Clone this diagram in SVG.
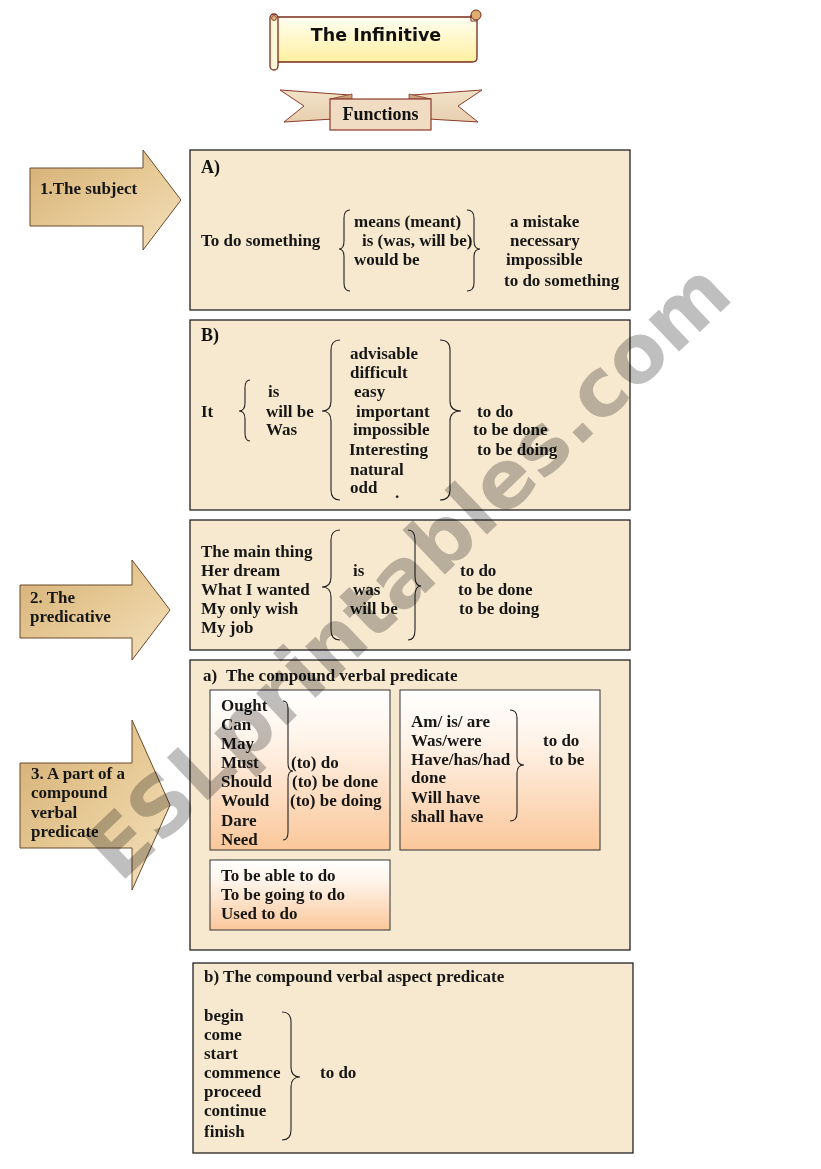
<svg xmlns="http://www.w3.org/2000/svg" width="821" height="1169" viewBox="0 0 821 1169">
<style>
.t{font-family:"Liberation Serif","Times New Roman",serif;font-size:17px;font-weight:bold;fill:#161616}
.hd{font-family:"Liberation Serif","Times New Roman",serif;font-size:18px;font-weight:bold;fill:#111}
.box{fill:#f7e9cf;stroke:#111;stroke-width:1.2}
.inner{fill:url(#peach);stroke:#333;stroke-width:1}
.arrow{fill:url(#tan);stroke:#6b4a2a;stroke-width:1}
.brace{fill:none;stroke:#222;stroke-width:1.1}
.wm{font-family:"DejaVu Sans",Verdana,sans-serif;font-weight:bold;font-size:81px;fill:#bfbfbf;mix-blend-mode:multiply}
</style>
<defs>
<linearGradient id="tan" x1="0" y1="0" x2="1" y2="1">
<stop offset="0" stop-color="#d4ae74"/><stop offset="0.5" stop-color="#e6c995"/><stop offset="1" stop-color="#f4e0bd"/>
</linearGradient>
<linearGradient id="peach" x1="0" y1="0" x2="0" y2="1">
<stop offset="0" stop-color="#ffffff"/><stop offset="0.3" stop-color="#fff4ea"/><stop offset="1" stop-color="#fac79a"/>
</linearGradient>
<linearGradient id="scroll" x1="0" y1="0" x2="0" y2="1">
<stop offset="0" stop-color="#fffef2"/><stop offset="1" stop-color="#fff0a0"/>
</linearGradient>
<linearGradient id="ribbon" x1="0" y1="0" x2="0" y2="1">
<stop offset="0" stop-color="#f3e2c8"/><stop offset="1" stop-color="#e6cfae"/>
</linearGradient>
</defs>
<rect width="821" height="1169" fill="#ffffff"/>

<g id="title">
<path d="M277 17 H477 V58 Q477 62 472 62 H277 Z" fill="url(#scroll)" stroke="#7a2a1a" stroke-width="1.3"/>
<rect x="270" y="14" width="8" height="56" rx="4" fill="#fff8d8" stroke="#7a2a1a" stroke-width="1.3"/>
<circle cx="274" cy="18" r="2.5" fill="#d8b07a" stroke="#7a2a1a" stroke-width="0.8"/>
<circle cx="476" cy="15" r="5" fill="#dcae72" stroke="#7a2a1a" stroke-width="1"/>
<path d="M471 15 V21 H477" fill="none" stroke="#7a2a1a" stroke-width="1"/>
<text x="376" y="41" text-anchor="middle" style="font-family:'DejaVu Sans',Verdana,sans-serif;font-weight:bold;font-size:17.5px;fill:#111">The Infinitive</text>
</g>

<g id="functions">
<polygon points="280,90 350,95 350,118 284,122 304,106" fill="url(#ribbon)" stroke="#8c3a2a" stroke-width="1"/>
<polygon points="482,90 412,95 412,118 478,122 458,106" fill="url(#ribbon)" stroke="#8c3a2a" stroke-width="1"/>
<polygon points="330,99 352,94 352,99" fill="#c9a27c" stroke="#8c3a2a" stroke-width="0.8"/>
<polygon points="431,99 409,94 409,99" fill="#c9a27c" stroke="#8c3a2a" stroke-width="0.8"/>
<rect x="330" y="99" width="101" height="31" fill="#efdcc2" stroke="#8c3a2a" stroke-width="1.2"/>
<text x="380.5" y="120" text-anchor="middle" class="hd">Functions</text>
</g>

<g id="arrow-subject">
<path class="arrow" d="M30 168 H143 V150 L181 200 L143 250 V226 H30 Z"/>
<text class="t" x="40" y="194">1.The subject</text>
</g>
<g id="arrow-predicative">
<path class="arrow" d="M20 585 H132 V560 L170 610 L132 660 V638 H20 Z"/>
<text class="t" x="30" y="603">2. The</text>
<text class="t" x="30" y="622">predicative</text>
</g>
<g id="arrow-compound">
<path class="arrow" d="M20 763 H132 V720 L170 805 L132 890 V848 H20 Z"/>
<text class="t" x="31" y="779">3. A part of a</text>
<text class="t" x="31" y="798">compound</text>
<text class="t" x="31" y="818">verbal</text>
<text class="t" x="31" y="837">predicate</text>
</g>

<g id="boxA">
<rect class="box" x="190" y="150" width="440" height="160"/>
<text class="hd" x="201" y="173">A)</text>
<text class="t" x="201" y="246">To do something</text>
<text class="t" x="354" y="227">means (meant)</text>
<text class="t" x="362" y="246">is (was, will be)</text>
<text class="t" x="354" y="265">would be</text>
<text class="t" x="510" y="227">a mistake</text>
<text class="t" x="510" y="246">necessary</text>
<text class="t" x="506" y="265">impossible</text>
<text class="t" x="504" y="286">to do something</text>
</g>

<g id="boxB">
<rect class="box" x="190" y="320" width="440" height="190"/>
<text class="hd" x="201" y="341">B)</text>
<text class="t" x="201" y="417">It</text>
<text class="t" x="268" y="397">is</text>
<text class="t" x="266" y="417">will be</text>
<text class="t" x="266" y="435">Was</text>
<text class="t" x="350" y="359">advisable</text>
<text class="t" x="350" y="378">difficult</text>
<text class="t" x="354" y="397">easy</text>
<text class="t" x="356" y="417">important</text>
<text class="t" x="353" y="435">impossible</text>
<text class="t" x="349" y="455">Interesting</text>
<text class="t" x="350" y="475">natural</text>
<text class="t" x="350" y="493">odd</text>
<text class="t" x="395" y="498">.</text>
<text class="t" x="477" y="417">to do</text>
<text class="t" x="473" y="435">to be done</text>
<text class="t" x="477" y="455">to be doing</text>
</g>

<g id="boxC">
<rect class="box" x="190" y="520" width="440" height="130"/>
<text class="t" x="201" y="557">The main thing</text>
<text class="t" x="201" y="576">Her dream</text>
<text class="t" x="201" y="595">What I wanted</text>
<text class="t" x="201" y="614">My only wish</text>
<text class="t" x="201" y="633">My job</text>
<text class="t" x="353" y="576">is</text>
<text class="t" x="353" y="595">was</text>
<text class="t" x="350" y="614">will be</text>
<text class="t" x="460" y="576">to do</text>
<text class="t" x="458" y="595">to be done</text>
<text class="t" x="459" y="614">to be doing</text>
</g>

<g id="boxD">
<rect class="box" x="190" y="660" width="440" height="290"/>
<text class="t" x="203" y="681">a)</text>
<text class="t" x="226" y="681">The compound verbal predicate</text>
<g id="modals">
<rect class="inner" x="210" y="690" width="180" height="160"/>
<text class="t" x="221" y="711">Ought</text>
<text class="t" x="221" y="730">Can</text>
<text class="t" x="221" y="749">May</text>
<text class="t" x="221" y="768">Must</text>
<text class="t" x="221" y="787">Should</text>
<text class="t" x="221" y="806">Would</text>
<text class="t" x="221" y="826">Dare</text>
<text class="t" x="221" y="845">Need</text>
<text class="t" x="291" y="768">(to) do</text>
<text class="t" x="292" y="787">(to) be done</text>
<text class="t" x="290" y="806">(to) be doing</text>
</g>
<g id="auxiliaries">
<rect class="inner" x="400" y="690" width="200" height="160"/>
<text class="t" x="411" y="727">Am/ is/ are</text>
<text class="t" x="411" y="746">Was/were</text>
<text class="t" x="411" y="765">Have/has/had</text>
<text class="t" x="411" y="783">done</text>
<text class="t" x="411" y="803">Will have</text>
<text class="t" x="411" y="822">shall have</text>
<text class="t" x="543" y="746">to do</text>
<text class="t" x="549" y="765">to be</text>
</g>
<g id="phrases">
<rect class="inner" x="210" y="860" width="180" height="70"/>
<text class="t" x="221" y="881">To be able to do</text>
<text class="t" x="221" y="900">To be going to do</text>
<text class="t" x="221" y="919">Used to do</text>
</g>
</g>

<g id="boxE">
<rect class="box" x="193" y="963" width="440" height="190"/>
<text class="t" x="204" y="982">b) The compound verbal aspect predicate</text>
<text class="t" x="204" y="1021">begin</text>
<text class="t" x="204" y="1040">come</text>
<text class="t" x="204" y="1059">start</text>
<text class="t" x="204" y="1078">commence</text>
<text class="t" x="204" y="1097">proceed</text>
<text class="t" x="204" y="1116">continue</text>
<text class="t" x="204" y="1137">finish</text>
<text class="t" x="320" y="1078">to do</text>
</g>

<g id="connectors">
<path class="brace" d="M350 210 Q344 210 344 218 L344 241 Q344 249 339 249 Q344 249 344 257 L344 283 Q344 291 350 291"/>
<path class="brace" d="M467 210 Q474 210 474 218 L474 241 Q474 249 480 249 Q474 249 474 257 L474 283 Q474 291 467 291"/>
<path class="brace" d="M250 380 Q245 380 245 388 L245 403 Q245 411 239 411 Q245 411 245 419 L245 433 Q245 441 250 441"/>
<path class="brace" d="M340 340 Q331 340 331 350 L331 401 Q331 411 322 411 Q331 411 331 421 L331 490 Q331 500 340 500"/>
<path class="brace" d="M440 340 Q450 340 450 350 L450 401 Q450 411 461 411 Q450 411 450 421 L450 490 Q450 500 440 500"/>
<path class="brace" d="M340 530 Q331 530 331 540 L331 577 Q331 587 322 587 Q331 587 331 597 L331 630 Q331 640 340 640"/>
<path class="brace" d="M408 530 Q415 530 415 540 L415 576 Q415 586 421 586 Q415 586 415 596 L415 630 Q415 640 408 640"/>
<path class="brace" d="M283 701 Q288 701 288 709 L288 763 Q288 771 293 771 Q288 771 288 779 L288 832 Q288 840 283 840"/>
<path class="brace" d="M510 710 Q517 710 517 718 L517 757 Q517 765 524 765 Q517 765 517 773 L517 813 Q517 821 510 821"/>
<path class="brace" d="M282 1012 Q291 1012 291 1022 L291 1067 Q291 1077 300 1077 Q291 1077 291 1087 L291 1130 Q291 1140 282 1140"/>
</g>

<text class="wm" transform="translate(120,884) rotate(-43.6)">ESLprintables.com</text>
</svg>
